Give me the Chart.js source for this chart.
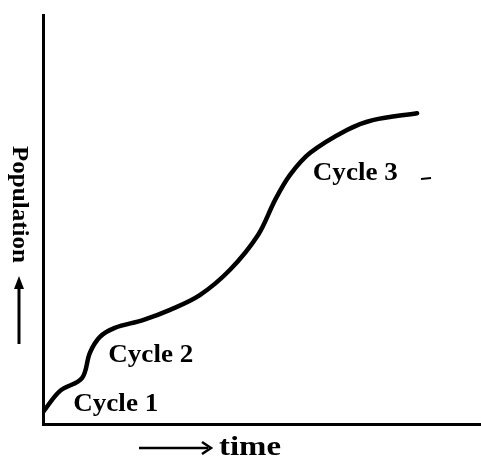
<!DOCTYPE html>
<html>
<head>
<meta charset="utf-8">
<script src="https://cdn.jsdelivr.net/npm/chart.js@4"></script>
<style>
  html, body { margin: 0; padding: 0; background: #fff; }
  #wrap { width: 481px; height: 459px; position: relative; }
</style>
</head>
<body>
<div id="wrap"><canvas id="c" width="481" height="459"></canvas></div>
<script>
// Data (relative units, 0-100)
const timeValues = [0, 3.9, 8.9, 10.7, 13.0, 16.4, 22.8, 29.0, 35.8, 42.7, 49.1, 53.0, 56.4, 61.0, 69.4, 75.3, 85.4];
const populationValues = [2.9, 8.1, 11.2, 17.4, 21.3, 23.5, 25.4, 27.9, 31.5, 37.7, 46.2, 54.8, 60.9, 66.3, 71.9, 74.3, 76.0];

const cycleLabels = ['Cycle 1', 'Cycle 2', 'Cycle 3'];
const cycleLabelX = [6.9, 14.9, 61.6];
const cycleLabelY = [4.9, 16.9, 61.4];

const xTitle = 'time';
const yTitle = 'Population';

const points = timeValues.map((t, i) => ({ x: t, y: populationValues[i] }));

const FONT = '"Liberation Serif", "DejaVu Serif", serif';

// draw text fitted to a target width (the scanned face is wide)
function fitText(ctx, txt, x, y, w) {
  const m = ctx.measureText(txt).width;
  ctx.save();
  ctx.translate(x, y);
  ctx.scale(w / m, 1);
  ctx.fillText(txt, 0, 0);
  ctx.restore();
}

const textPlugin = {
  id: 'texts',
  afterDraw(chart) {
    const ctx = chart.ctx;
    const xs = chart.scales.x, ys = chart.scales.y;
    ctx.save();
    ctx.fillStyle = '#000';
    ctx.strokeStyle = '#000';
    // cycle labels
    ctx.font = 'bold 26px ' + FONT;
    ctx.textBaseline = 'middle';
    ctx.textAlign = 'left';
    cycleLabels.forEach((lab, i) => {
      fitText(ctx, lab, xs.getPixelForValue(cycleLabelX[i]), ys.getPixelForValue(cycleLabelY[i]), 85);
    });
    // small mark near Cycle 3
    ctx.lineWidth = 2;
    ctx.beginPath();
    ctx.moveTo(421, 179); ctx.lineTo(431, 178); ctx.stroke();

    // y title rotated
    ctx.save();
    ctx.translate(19, 146);
    ctx.rotate(Math.PI / 2);
    ctx.font = 'bold 23px ' + FONT;
    ctx.textAlign = 'left';
    ctx.textBaseline = 'middle';
    fitText(ctx, yTitle, 0, 0, 117);
    ctx.restore();
    // up arrow
    ctx.lineWidth = 3;
    ctx.beginPath();
    ctx.moveTo(19, 344); ctx.lineTo(19, 284); ctx.stroke();
    ctx.beginPath();
    ctx.moveTo(19, 276); ctx.lineTo(14, 289); ctx.lineTo(24, 289); ctx.closePath(); ctx.fill();

    // x title
    ctx.lineWidth = 2.5;
    ctx.beginPath();
    ctx.moveTo(139, 448); ctx.lineTo(208, 448); ctx.stroke();
    ctx.beginPath();
    ctx.moveTo(202, 442); ctx.lineTo(211, 448); ctx.lineTo(202, 454); ctx.stroke();
    ctx.font = 'bold 27px ' + FONT;
    ctx.textAlign = 'left';
    ctx.textBaseline = 'alphabetic';
    fitText(ctx, xTitle, 219, 455, 62);
    ctx.restore();
  }
};

new Chart(document.getElementById('c'), {
  type: 'line',
  data: {
    datasets: [{
      data: points,
      borderColor: '#000',
      borderWidth: 4.5,
      pointRadius: 0,
      tension: 0.35,
      fill: false,
      borderCapStyle: 'round'
    }]
  },
  options: {
    responsive: false,
    animation: false,
    layout: { padding: { left: 43, top: 15, right: 0, bottom: 35 } },
    plugins: { legend: { display: false }, tooltip: { enabled: false } },
    scales: {
      x: {
        type: 'linear', min: 0, max: 100,
        grid: { display: false },
        ticks: { display: false },
        border: { display: true, color: '#000', width: 3 },
        afterFit(s) { s.height = 0; }
      },
      y: {
        type: 'linear', min: 0, max: 100,
        grid: { display: false },
        ticks: { display: false },
        border: { display: true, color: '#000', width: 3 },
        afterFit(s) { s.width = 0; }
      }
    }
  },
  plugins: [textPlugin]
});
</script>
</body>
</html>
